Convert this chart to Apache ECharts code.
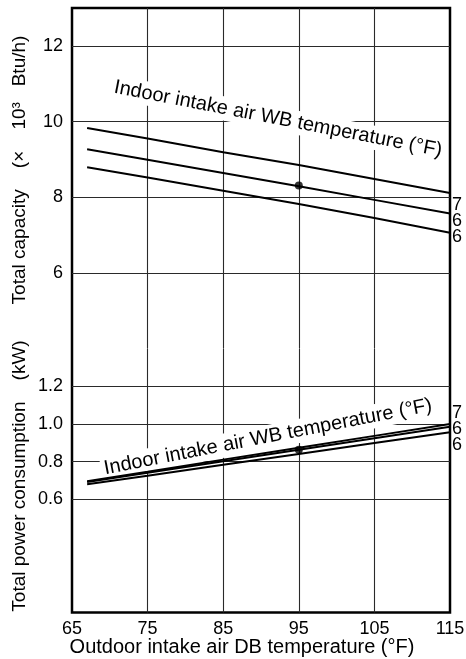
<!DOCTYPE html>
<html>
<head>
<meta charset="utf-8">
<script src="https://cdn.jsdelivr.net/npm/echarts@6/dist/echarts.min.js"></script>
<style>
  html, body { margin: 0; padding: 0; background: #fff; }
  #chart { width: 466px; height: 659px; }
</style>
</head>
<body>
<div id="chart"></div>
<script>
// outdoor DB temperature (F) where the curves were read
var dbTemp = [67, 75, 85, 95, 105, 115];
// total capacity (x 10^3 Btu/h) for the three indoor WB temperatures
var capHigh = [9.83, 9.55, 9.19, 8.85, 8.48, 8.11];
var capMid = [9.27, 8.99, 8.64, 8.29, 7.93, 7.57];
var capLow = [8.79, 8.52, 8.17, 7.82, 7.45, 7.06];
// total power consumption (kW)
var powHigh = [0.697, 0.747, 0.811, 0.874, 0.937, 1.0];
var powMid = [0.692, 0.741, 0.802, 0.863, 0.925, 0.986];
var powLow = [0.680, 0.726, 0.784, 0.841, 0.899, 0.956];
// rated point
var ratedDb = 95;
var ratedCap = 8.31;
var ratedPow = 0.863;
// tick labels shown
var xTicks = [65, 75, 85, 95, 105, 115];
var capTicks = [6, 8, 10, 12];
var powTicks = [0.6, 0.8, 1.0, 1.2];
var wbLabels = ['7', '6', '6'];

var FONT = '"Liberation Sans", Arial, sans-serif';
var GRID_C = '#2a2a2a';
var NONE = 'rgba(0,0,0,0)';

function pairs(xs, ys) {
  return xs.map(function (x, i) { return [x, ys[i]]; });
}
function has(list, v) {
  return list.some(function (t) { return Math.abs(t - v) < 1e-6; });
}

// split line colours: one per tick, so only the wanted lines show
var xLineColors = [];
for (var t = 65; t <= 115; t += 5) xLineColors.push(has(xTicks, t) && t !== 65 && t !== 115 ? GRID_C : NONE);
var capLineColors = [];
[4, 6, 8, 10, 12, 13].forEach(function (v) { capLineColors.push(has(capTicks, v) ? GRID_C : NONE); });
var powLineColors = [];
[0, 0.2, 0.4, 0.6, 0.8, 1.0, 1.2, 1.4].forEach(function (v) { powLineColors.push(has(powTicks, v) ? GRID_C : NONE); });

function xAxisOf(gridIndex, showLabels) {
  return {
    type: 'value', gridIndex: gridIndex, min: 65, max: 115, interval: 5,
    axisLine: { show: false }, axisTick: { show: false },
    axisLabel: {
      show: showLabels, margin: 8, color: '#000', fontSize: 18, fontFamily: FONT,
      formatter: function (v) { return has(xTicks, v) ? String(v) : ''; }
    },
    splitLine: { show: true, lineStyle: { color: xLineColors, width: 1.1 } }
  };
}

function yAxisOf(gridIndex, min, max, interval, ticks, colors, digits) {
  return {
    type: 'value', gridIndex: gridIndex, min: min, max: max, interval: interval,
    axisLine: { show: false }, axisTick: { show: false },
    axisLabel: {
      margin: 9, color: '#000', fontSize: 18, fontFamily: FONT,
      formatter: function (v) { return has(ticks, v) ? v.toFixed(digits) : ''; }
    },
    splitLine: { show: true, lineStyle: { color: colors, width: 1.1 } }
  };
}

function line(name, x, y, data) {
  return {
    name: name, type: 'line', xAxisIndex: x, yAxisIndex: y, data: data,
    showSymbol: false, symbol: 'none', silent: true,
    lineStyle: { color: '#000', width: 2 }
  };
}

function dot(x, y, data) {
  return {
    type: 'scatter', xAxisIndex: x, yAxisIndex: y, data: data,
    symbol: 'circle', symbolSize: 8, itemStyle: { color: '#000' }, silent: true
  };
}

function label(text, x, y, deg, size, extra) {
  var style = { text: text, font: size + 'px ' + FONT, fill: '#000', align: 'center', verticalAlign: 'middle' };
  for (var k in extra) style[k] = extra[k];
  return { type: 'text', x: x, y: y, rotation: deg * Math.PI / 180, z: 1, style: style };
}

var chart = echarts.init(document.getElementById('chart'), null, { renderer: 'canvas' });
var option = {
  animation: false,
  backgroundColor: '#fff',
  grid: [
    { left: 72, right: 16, top: 8, height: 340.6, outerBoundsMode: 'none' },
    { left: 72, right: 16, top: 348.6, bottom: 46.5, outerBoundsMode: 'none' },
    // outer frame
    { left: 72, right: 16, top: 8, bottom: 46.5, show: true, borderColor: '#000', borderWidth: 2.5,
      backgroundColor: NONE, outerBoundsMode: 'none' }
  ],
  xAxis: [xAxisOf(0, false), xAxisOf(1, true)],
  yAxis: [
    yAxisOf(0, 4, 13, 2, capTicks, capLineColors, 0),
    yAxisOf(1, 0, 1.4, 0.2, powTicks, powLineColors, 1)
  ],
  series: [
    line('cap ' + wbLabels[0], 0, 0, pairs(dbTemp, capHigh)),
    line('cap ' + wbLabels[1], 0, 0, pairs(dbTemp, capMid)),
    line('cap ' + wbLabels[2], 0, 0, pairs(dbTemp, capLow)),
    line('pow ' + wbLabels[0], 1, 1, pairs(dbTemp, powHigh)),
    line('pow ' + wbLabels[1], 1, 1, pairs(dbTemp, powMid)),
    line('pow ' + wbLabels[2], 1, 1, pairs(dbTemp, powLow)),
    dot(0, 0, [[ratedDb, ratedCap]]),
    dot(1, 1, [[ratedDb, ratedPow]])
  ],
  graphic: [
    label('Indoor intake air WB temperature (°F)', 278, 119, -11, 20, { backgroundColor: '#fff', padding: [2, 3] }),
    label('Indoor intake air WB temperature (°F)', 268, 437, 11, 20, { backgroundColor: '#fff', padding: [2, 3] }),
    label('Total capacity    (×    10³   Btu/h)', 20, 170, 90, 19, {}),
    label('Total power consumption    (kW)', 20, 476, 90, 19, {}),
    label('Outdoor intake air DB temperature (°F)', 242, 647, 0, 20, {}),
    {
      type: 'text', x: 452, y: 197, z: 1,
      style: { text: wbLabels.join('\n'), font: '18px ' + FONT, fill: '#000', lineHeight: 16 }
    },
    {
      type: 'text', x: 452, y: 405, z: 1,
      style: { text: wbLabels.join('\n'), font: '18px ' + FONT, fill: '#000', lineHeight: 16 }
    }
  ]
};
chart.setOption(option);
</script>
</body>
</html>
